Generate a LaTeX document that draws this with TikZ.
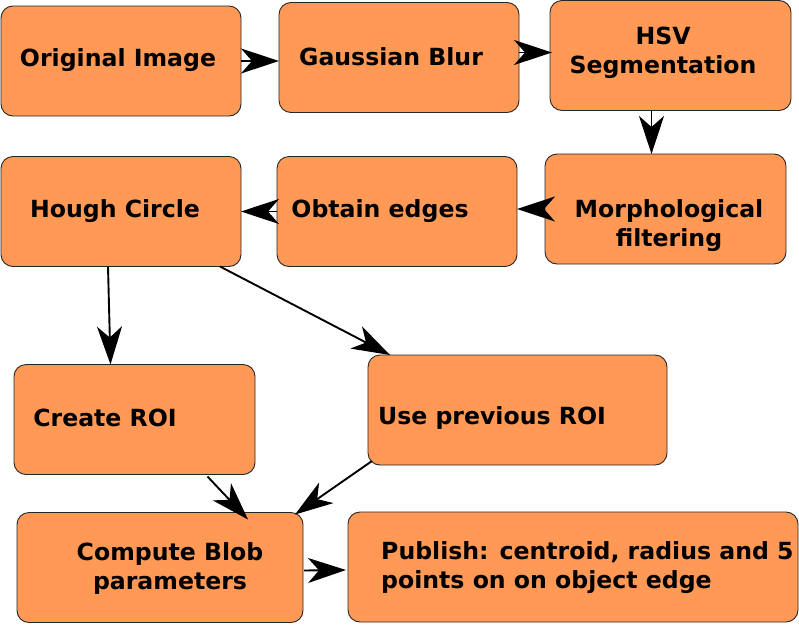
\documentclass[tikz,border=0pt]{standalone}
\usepackage{fontspec}
\setmainfont{DejaVu Sans}
\usetikzlibrary{arrows.meta,positioning,calc}
\definecolor{boxorange}{HTML}{FF9955}

\tikzset{
    blk/.style={draw=black!85, line width=0.9pt, fill=boxorange, rounded corners=12pt,
        inner sep=0pt, outer sep=0pt, minimum height=110pt},
    lbl/.style={font=\fontsize{23.6}{29}\selectfont\bfseries, align=center, inner sep=0pt},
    flow/.style={line width=1.9pt, -{Stealth[length=38pt, width=25pt, inset=11pt]}}
}

\begin{document}
\begin{tikzpicture}[x=1pt, y=-1pt]
    \useasboundingbox (0,0) rectangle (799,624);

    % Boxes
    \node[blk, minimum width=240pt] (orig)   at (121,61)    {};
    \node[blk, minimum width=240pt] (gauss)  at (399,57.5)  {};
    \node[blk, minimum width=241pt] (hsv)    at (670.5,55.5) {};
    \node[blk, minimum width=241pt] (morph)  at (665.5,209) {};
    \node[blk, minimum width=240pt] (obtain) at (397,211.5) {};
    \node[blk, minimum width=240pt] (hough)  at (121,211.5) {};
    \node[blk, minimum width=241pt] (roi)    at (134.5,419.5) {};
    \node[blk, minimum width=299pt] (prev)   at (517.5,410) {};
    \node[blk, minimum width=286pt] (blob)   at (160,567.5) {};
    \node[blk, minimum width=450pt] (pub)    at (573,567)   {};

    % Labels
    \node[lbl] (origtxt)   at (118,60)  {Original Image};
    \node[lbl] (gausstxt)  at (391,57)  {Gaussian Blur};
    \node[lbl] (hsvtxt)    at (663,53)  {HSV\\Segmentation};
    \node[lbl] (morphtxt)  at (669,226) {Morphological\\filtering};
    \node[lbl] (obtaintxt) at (380,211) {Obtain edges};
    \node[lbl] (houghtxt)  at (115,211) {Hough Circle};
    \node[lbl] (roitxt)    at (105,418) {Create ROI};
    \node[lbl] (prevtxt)   at (492,418) {Use previous ROI};
    \node[lbl] (blobtxt)   at (170,568) {Compute Blob\\parameters};
    \node[lbl, anchor=west, align=left] (pubtxt) at (381,568)
        {Publish: centroid, radius and 5\\points on on object edge};

    % Arrows
    \draw[flow] (orig.east) -- (orig.east -| gauss.west);
    \draw[flow] ($(gauss.east)+(0,-5)$) -- ($(hsv.west)+(2,-3)$);
    \draw[flow] ($(hsv.south)+(-19,0)$) -- ($(morph.north)+(-14,0)$);
    \draw[flow] (morph.west) -- (morph.west -| obtain.east);
    \draw[flow] (obtain.west) -- (hough.east);
    \draw[flow] ($(hough.south)+(-13,0)$) -- ($(roi.north)+(-24,0)$);
    \draw[flow] ($(hough.south east)+(-21,0)$) -- ($(prev.north west)+(22,0)$);
    \draw[flow] ($(roi.south)+(73,2)$) -- ($(blob.north)+(88,7)$);
    \draw[flow] ($(prev.south west)+(4,-4)$) -- ($(blob.north east)+(-8,2)$);
    \draw[flow] ($(blob.east)+(1,3)$) -- ($(pub.west)+(-2,3)$);
\end{tikzpicture}
\end{document}
